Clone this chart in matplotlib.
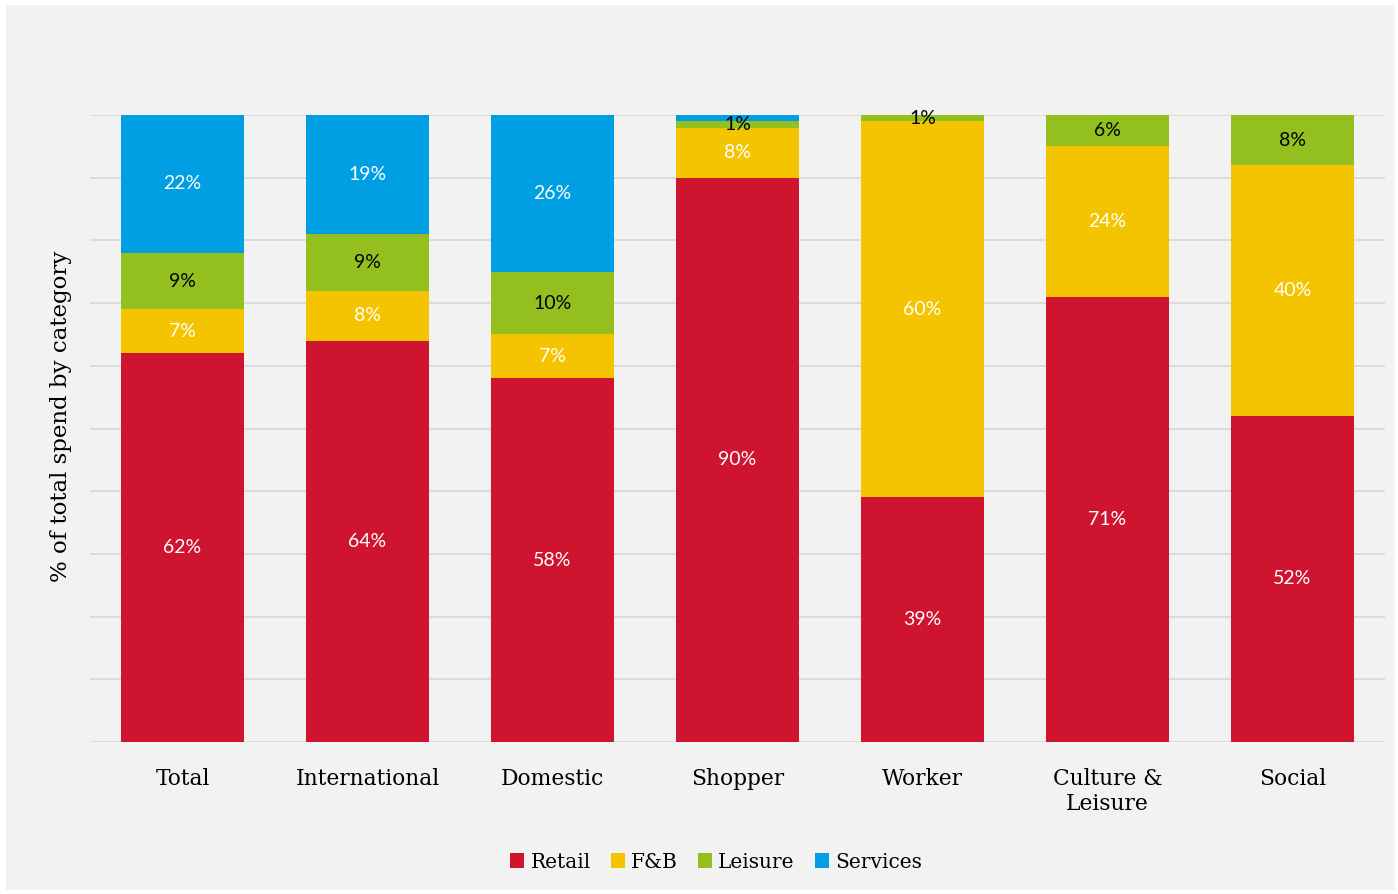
import matplotlib
matplotlib.use("Agg")
import matplotlib.pyplot as plt
from matplotlib.patches import Rectangle
import numpy as np

categories = ["Total", "International", "Domestic", "Shopper", "Worker",
              "Culture &\nLeisure", "Social"]
retail = [62, 64, 58, 90, 39, 71, 52]
fnb = [7, 8, 7, 8, 60, 24, 40]
leisure = [9, 9, 10, 1, 1, 6, 8]
services = [22, 19, 26, 1, 0, 0, 0]

series_names = ["Retail", "F&B", "Leisure", "Services"]
series_colors = ["#cf1430", "#f5c400", "#93c01f", "#009fe3"]
label_colors = ["white", "white", "black", "white"]

serif = "DejaVu Serif"
sans = "Lato"

fig = plt.figure(figsize=(13.98, 8.94), dpi=100, facecolor="white")
# light grey panel behind the chart
fig.patches.append(Rectangle((6 / 1398, 4 / 894), 1389 / 1398, 885 / 894,
                             transform=fig.transFigure, facecolor="#f2f2f2",
                             edgecolor="none", zorder=-10))

ax = fig.add_axes([90 / 1398, (894 - 742) / 894, 1295 / 1398, 627 / 894])
ax.set_facecolor("none")

data = np.array([retail, fnb, leisure, services], dtype=float)
x = np.arange(len(categories))
bottom = np.zeros(len(categories))
handles = []
for i, name in enumerate(series_names):
    h = ax.bar(x, data[i], bottom=bottom, width=0.665, color=series_colors[i],
               label=name, zorder=2)
    handles.append(h)
    for j in range(len(categories)):
        v = data[i, j]
        show = v >= 2 or (name == "Leisure" and v > 0)
        if show:
            # centre the label on the visible part of the segment
            lo = bottom[j]
            hi = min(bottom[j] + v, 100)
            ax.text(x[j], (lo + hi) / 2, f"{int(v)}%",
                    ha="center", va="center", color=label_colors[i],
                    fontsize=14, family=sans, zorder=3)
    bottom += data[i]

ax.set_xlim(-0.5, len(categories) - 0.5)
ax.set_ylim(0, 100)
ax.set_yticks(np.arange(0, 101, 10))
ax.yaxis.grid(True, color="#d9d9d9", linewidth=1.3, zorder=0)
ax.set_axisbelow(True)
ax.tick_params(axis="y", length=0, labelleft=False)
ax.tick_params(axis="x", length=0, pad=19)
ax.set_xticks(x)
ax.set_xticklabels(categories, fontsize=15.7, family=serif, color="black",
                   linespacing=1.15)
for s in ax.spines.values():
    s.set_visible(False)

ax.set_ylabel("% of total spend by category", fontsize=16.5, family=serif,
              color="black")
ax.yaxis.set_label_coords(-0.014, 0.52)

leg = fig.legend(handles=handles, labels=series_names, loc="center",
                 bbox_to_anchor=(716 / 1398, (894 - 862) / 894), ncol=4,
                 frameon=False, handlelength=0.7, handleheight=0.7,
                 handletextpad=0.3, columnspacing=1.0,
                 prop={"family": serif, "size": 14.5})

fig.savefig("out.png", dpi=100, facecolor=fig.get_facecolor())
